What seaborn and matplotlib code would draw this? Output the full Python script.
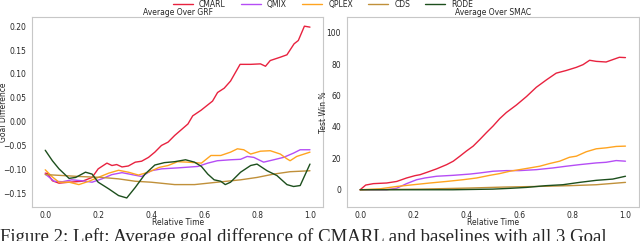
import pandas as pd
import seaborn as sns
import matplotlib
matplotlib.use("Agg")
import matplotlib.pyplot as plt

# 방법 이름 / 색상
methods = ["CMARL", "QMIX", "QPLEX", "CDS", "RODE"]
colors = ["#e8223f", "#b54df5", "#ffa420", "#c0903a", "#1d4f1d"]

# GRF (goal difference)
grf_cmarl_x = [0.0, 0.009, 0.027, 0.052, 0.09, 0.14, 0.177, 0.20, 0.233, 0.252, 0.27, 0.29, 0.314, 0.34,
               0.364, 0.39, 0.414, 0.439, 0.464, 0.489, 0.514, 0.539, 0.557, 0.589, 0.632, 0.651, 0.676,
               0.70, 0.736, 0.776, 0.813, 0.832, 0.85, 0.888, 0.913, 0.94, 0.956, 0.979, 1.0]
grf_cmarl_y = [-0.108, -0.109, -0.124, -0.129, -0.127, -0.125, -0.117, -0.099, -0.087, -0.092, -0.09,
               -0.095, -0.093, -0.085, -0.083, -0.075, -0.064, -0.05, -0.043, -0.029, -0.017, -0.005,
               0.012, 0.024, 0.043, 0.061, 0.07, 0.085, 0.12, 0.12, 0.121, 0.116, 0.128, 0.135, 0.14,
               0.163, 0.17, 0.20, 0.198]
grf_qmix_x = [0.0, 0.034, 0.065, 0.10, 0.14, 0.177, 0.214, 0.252, 0.29, 0.327, 0.364, 0.40, 0.44, 0.50,
              0.576, 0.614, 0.65, 0.70, 0.738, 0.763, 0.788, 0.825, 0.863, 0.90, 0.938, 0.963, 1.0]
grf_qmix_y = [-0.11, -0.125, -0.126, -0.122, -0.124, -0.127, -0.12, -0.111, -0.107, -0.111, -0.115,
              -0.103, -0.099, -0.097, -0.094, -0.087, -0.082, -0.08, -0.079, -0.073, -0.075, -0.085,
              -0.08, -0.075, -0.066, -0.059, -0.059]
grf_qplex_x = [0.0, 0.027, 0.052, 0.09, 0.127, 0.165, 0.20, 0.24, 0.277, 0.314, 0.352, 0.39, 0.43,
               0.464, 0.50, 0.539, 0.59, 0.626, 0.663, 0.70, 0.726, 0.75, 0.776, 0.813, 0.85, 0.888,
               0.913, 0.925, 0.95, 1.0]
grf_qplex_y = [-0.101, -0.116, -0.127, -0.127, -0.132, -0.125, -0.117, -0.108, -0.102, -0.106, -0.112,
               -0.106, -0.096, -0.092, -0.084, -0.085, -0.087, -0.071, -0.071, -0.064, -0.057, -0.059,
               -0.068, -0.062, -0.061, -0.068, -0.078, -0.082, -0.073, -0.064]
grf_cds_x = [0.0, 0.065, 0.127, 0.214, 0.277, 0.34, 0.40, 0.489, 0.564, 0.65, 0.738, 0.80, 0.863, 0.925, 1.0]
grf_cds_y = [-0.111, -0.113, -0.115, -0.117, -0.12, -0.125, -0.127, -0.132, -0.132, -0.127, -0.122,
             -0.117, -0.11, -0.105, -0.103]
grf_rode_x = [0.0, 0.027, 0.052, 0.09, 0.115, 0.152, 0.177, 0.20, 0.24, 0.277, 0.308, 0.34, 0.377, 0.414,
              0.45, 0.489, 0.53, 0.564, 0.59, 0.614, 0.638, 0.663, 0.68, 0.70, 0.738, 0.776, 0.80, 0.838,
              0.875, 0.913, 0.938, 0.963, 1.0]
grf_rode_y = [-0.06, -0.082, -0.099, -0.119, -0.117, -0.106, -0.11, -0.127, -0.141, -0.155, -0.16,
              -0.138, -0.11, -0.091, -0.086, -0.084, -0.08, -0.085, -0.094, -0.11, -0.122, -0.125,
              -0.132, -0.127, -0.106, -0.092, -0.089, -0.103, -0.113, -0.132, -0.136, -0.134, -0.089]

# SMAC (test win %)
smac_cmarl_x = [0.0, 0.021, 0.05, 0.10, 0.138, 0.175, 0.207, 0.226, 0.25, 0.288, 0.326, 0.351, 0.376,
                0.40, 0.426, 0.451, 0.476, 0.501, 0.526, 0.551, 0.589, 0.627, 0.664, 0.702, 0.739,
                0.777, 0.815, 0.84, 0.865, 0.89, 0.927, 0.952, 0.977, 1.0]
smac_cmarl_y = [0, 3, 3.9, 4.3, 5.3, 7.5, 9, 9.6, 11, 13.3, 16, 18.2, 21.4, 24.6, 27.8, 32, 36.4, 40.6,
                45.3, 49.2, 54, 59.4, 65.3, 70, 74.3, 76, 78, 79.7, 82.5, 81.8, 81.4, 82.9, 84.4, 84.2]
smac_qmix_x = [0.0, 0.10, 0.138, 0.175, 0.213, 0.244, 0.288, 0.351, 0.414, 0.451, 0.501, 0.551, 0.60,
               0.664, 0.727, 0.777, 0.827, 0.89, 0.927, 0.965, 1.0]
smac_qmix_y = [0, 0, 1, 3.9, 6.4, 7.5, 8.6, 9.2, 10, 10.7, 11.8, 12.2, 12.2, 12.8, 13.9, 15, 16, 17.1,
               17.5, 18.6, 18.2]
smac_qplex_x = [0.0, 0.075, 0.138, 0.20, 0.263, 0.326, 0.388, 0.439, 0.489, 0.526, 0.564, 0.60, 0.639,
                0.677, 0.714, 0.752, 0.789, 0.815, 0.852, 0.89, 0.927, 0.965, 1.0]
smac_qplex_y = [0, 0.6, 2.1, 3.2, 4.3, 5.3, 6.4, 7.5, 9.2, 10.3, 11.8, 12.8, 13.9, 15, 16.7, 18.2, 20.7,
                21.4, 24.2, 26.1, 26.7, 27.6, 27.8]
smac_cds_x = [0.0, 0.226, 0.414, 0.539, 0.664, 0.789, 0.89, 1.0]
smac_cds_y = [0, 0.4, 1.1, 1.7, 2.1, 2.6, 3.2, 4.7]
smac_rode_x = [0.0, 0.226, 0.35, 0.50, 0.564, 0.627, 0.70, 0.764, 0.827, 0.89, 0.952, 1.0]
smac_rode_y = [0, 0, 0, 0.4, 0.9, 1.5, 2.6, 3.2, 4.7, 6, 6.8, 8.6]


def to_frame(xs, ys):
    # 방법별 리스트를 long format 으로
    rows = []
    for name, x, y in zip(methods, xs, ys):
        rows.append(pd.DataFrame({"time": x, "value": y, "method": name}))
    return pd.concat(rows, ignore_index=True)


grf = to_frame([grf_cmarl_x, grf_qmix_x, grf_qplex_x, grf_cds_x, grf_rode_x],
               [grf_cmarl_y, grf_qmix_y, grf_qplex_y, grf_cds_y, grf_rode_y])
smac = to_frame([smac_cmarl_x, smac_qmix_x, smac_qplex_x, smac_cds_x, smac_rode_x],
                [smac_cmarl_y, smac_qmix_y, smac_qplex_y, smac_cds_y, smac_rode_y])

sns.set_style("white", {"axes.edgecolor": "0.78"})
plt.rcParams["font.family"] = ["DejaVu Sans"]
plt.rcParams["xtick.major.pad"] = -0.6
plt.rcParams["ytick.major.pad"] = 0.7
palette = dict(zip(methods, colors))

fig = plt.figure(figsize=(6.4, 2.41), dpi=100)
ax1 = fig.add_axes([0.05, 0.141, 0.455, 0.788])
ax2 = fig.add_axes([0.542, 0.141, 0.456, 0.788])

sns.lineplot(data=grf, x="time", y="value", hue="method", palette=palette, estimator=None,
             linewidth=1.0, ax=ax1, legend=True)
sns.lineplot(data=smac, x="time", y="value", hue="method", palette=palette, estimator=None,
             linewidth=1.0, ax=ax2, legend=False)

handles, labels = ax1.get_legend_handles_labels()
ax1.get_legend().remove()

ax1.set_title("Average Over GRF", fontsize=5.5, pad=1.5)
ax1.set_xlabel("Relative Time", fontsize=5.5, labelpad=-1.8)
ax1.set_ylabel("Goal Difference", fontsize=5.5)
ax1.yaxis.set_label_coords(-0.083, 0.5)
ax1.set_xticks([0.0, 0.2, 0.4, 0.6, 0.8, 1.0])
ax1.set_yticks([-0.15, -0.10, -0.05, 0.00, 0.05, 0.10, 0.15, 0.20])
ax1.set_ylim(-0.179, 0.219)

ax2.set_title("Average Over SMAC", fontsize=5.5, pad=1.5)
ax2.set_xlabel("Relative Time", fontsize=5.5, labelpad=-1.8)
ax2.set_ylabel("Test Win %", fontsize=5.5)
ax2.yaxis.set_label_coords(-0.066, 0.5)
ax2.set_xticks([0.0, 0.2, 0.4, 0.6, 0.8, 1.0])
ax2.set_yticks([0, 20, 40, 60, 80, 100])
ax2.set_ylim(-11, 110)

for ax in (ax1, ax2):
    ax.set_xlim(-0.05, 1.05)
    ax.tick_params(labelsize=5.5)

fig.legend(handles, labels, loc="center", bbox_to_anchor=(0.505, 0.981), ncol=5, frameon=False,
           fontsize=5.5, handlelength=2.6, columnspacing=2.0, borderaxespad=0)

# 논문 캡션 (아래쪽이 잘려 있음)
fig.text(0.0, -0.006, "Figure 2: Left: Average goal difference of CMARL and baselines with all 3 Goal",
         family=["Liberation Serif", "DejaVu Serif"], fontsize=13.5, ha="left", va="baseline")

fig.savefig("out.png", dpi=100)
